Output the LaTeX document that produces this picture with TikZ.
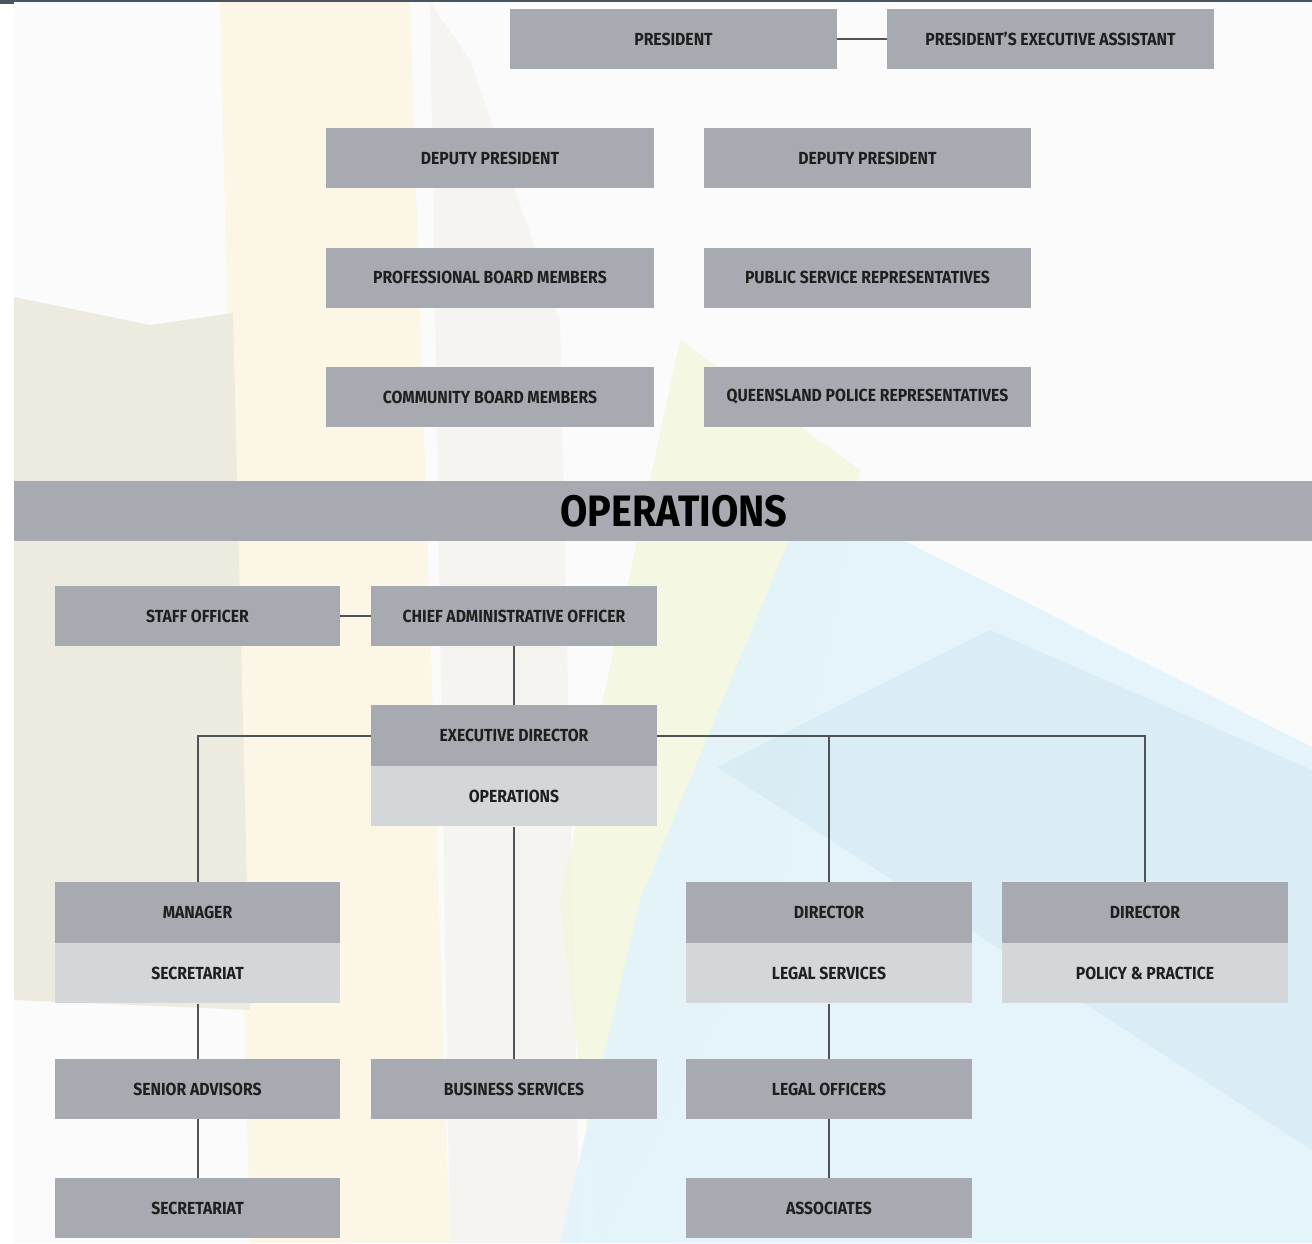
\documentclass[tikz,border=0pt]{standalone}
\usepackage{fontspec}
\newfontfamily\boxfont{Fira Sans}[FakeStretch=0.9]
\newfontfamily\headfont{Fira Sans}[FakeStretch=0.9]
\begin{document}
\begin{tikzpicture}[x=1pt,y=-1pt,
  every node/.style={font=\boxfont\bfseries\fontsize{17.5}{19}\selectfont, text=black!88},
  dbox/.style={fill=boxdark, draw=none, minimum height=60pt, inner sep=0pt},
  lbox/.style={fill=boxlight, draw=none, minimum height=60pt, inner sep=0pt},
  conn/.style={draw=linegray, line width=2pt}]
\definecolor{boxdark}{HTML}{A7ABB1}
\definecolor{boxlight}{HTML}{D4D7DA}
\definecolor{linegray}{HTML}{4E5358}
\definecolor{topbar}{HTML}{4A5560}
\definecolor{beige}{HTML}{ECE9DE}
\definecolor{cream}{HTML}{FDF5E2}
\definecolor{lblue}{HTML}{E3F3FA}
\definecolor{mblue}{HTML}{D3E8F3}
\definecolor{lgreen}{HTML}{F3F6DC}
\useasboundingbox (0,0) rectangle (1312,1243);
\fill[white] (0,0) rectangle (1312,1243);
% background washes
\fill[fill=black!1.5] (14,2) rectangle (1312,1243);
\fill[cream, opacity=0.8] (220,2) -- (410,2) -- (450,1243) -- (250,1243) -- cycle;
\fill[beige, opacity=0.9] (14,297) -- (150,325) -- (233,313) -- (250,1010) -- (14,1000) -- cycle;
\fill[beige, opacity=0.35] (430,2) -- (470,60) -- (560,320) -- (580,1243) -- (450,1243) -- cycle;
\fill[lgreen, opacity=0.8] (680,340) -- (860,470) -- (780,900) -- (600,1243) -- (560,900) -- cycle;
\fill[lblue, opacity=0.9] (793,530) -- (883,530) -- (1312,747) -- (1312,1243) -- (560,1243) -- (640,900) -- cycle;
\fill[mblue, opacity=0.6] (990,630) -- (1312,770) -- (1312,1150) -- (717,767) -- cycle;
\fill[topbar] (0,0) rectangle (1312,2);
\fill[topbar] (0,0) rectangle (14,4);
% top section
\node[dbox, minimum width=327pt] (pres) at (673.5,39) {PRESIDENT};
\node[dbox, minimum width=327pt] (pea) at (1050.5,39) {PRESIDENT’S EXECUTIVE ASSISTANT};
\node[dbox, minimum width=328pt] (dp1) at (490,158) {DEPUTY PRESIDENT};
\node[dbox, minimum width=327pt] (dp2) at (867.5,158) {DEPUTY PRESIDENT};
\node[dbox, minimum width=328pt] (pbm) at (490,277.5) {PROFESSIONAL BOARD MEMBERS};
\node[dbox, minimum width=327pt] (psr) at (867.5,277.5) {PUBLIC SERVICE REPRESENTATIVES};
\node[dbox, minimum width=328pt] (cbm) at (490,397) {COMMUNITY BOARD MEMBERS};
\node[dbox, minimum width=327pt] (qpr) at (867.5,397) {QUEENSLAND POLICE REPRESENTATIVES};
\draw[conn] (pres.east) -- (pea.west);
% operations bar
\node[dbox, minimum width=1298pt, minimum height=60pt] (ops) at (663,511) {};
\node[font=\headfont\bfseries\fontsize{44}{48}\selectfont, text=black, inner sep=0pt] (opst) at (674,511) {OPERATIONS};
% operations section
\node[dbox, minimum width=285pt] (so) at (197.5,616) {STAFF OFFICER};
\node[dbox, minimum width=286pt] (cao) at (514,616) {CHIEF ADMINISTRATIVE OFFICER};
\node[dbox, minimum width=286pt, minimum height=61pt] (ed) at (514,735.5) {EXECUTIVE DIRECTOR};
\node[lbox, minimum width=286pt, anchor=north] (edo) at (ed.south) {OPERATIONS};
\node[dbox, minimum width=285pt, minimum height=61pt] (mgr) at (197.5,912.5) {MANAGER};
\node[lbox, minimum width=285pt, anchor=north] (mgrs) at (mgr.south) {SECRETARIAT};
\node[dbox, minimum width=286pt, minimum height=61pt] (dl) at (829,912.5) {DIRECTOR};
\node[lbox, minimum width=286pt, anchor=north] (dls) at (dl.south) {LEGAL SERVICES};
\node[dbox, minimum width=286pt, minimum height=61pt] (dpp) at (1145,912.5) {DIRECTOR};
\node[lbox, minimum width=286pt, anchor=north] (dpps) at (dpp.south) {POLICY \& PRACTICE};
\node[dbox, minimum width=285pt] (sa) at (197.5,1089) {SENIOR ADVISORS};
\node[dbox, minimum width=286pt] (bs) at (514,1089) {BUSINESS SERVICES};
\node[dbox, minimum width=286pt] (lo) at (829,1089) {LEGAL OFFICERS};
\node[dbox, minimum width=285pt] (sec) at (197.5,1208) {SECRETARIAT};
\node[dbox, minimum width=286pt] (as) at (829,1208) {ASSOCIATES};
% connectors
\draw[conn] (so.east) -- (cao.west);
\draw[conn] (cao.south) -- (ed.north);
\draw[conn] (ed.west) -| (mgr.north);
\draw[conn] (ed.east) -| (dpp.north);
\draw[conn] (dl.north) |- (ed.east);
\draw[conn] (edo.south) -- (bs.north);
\draw[conn] (mgrs.south) -- (sa.north);
\draw[conn] (sa.south) -- (sec.north);
\draw[conn] (dls.south) -- (lo.north);
\draw[conn] (lo.south) -- (as.north);
\end{tikzpicture}
\end{document}
